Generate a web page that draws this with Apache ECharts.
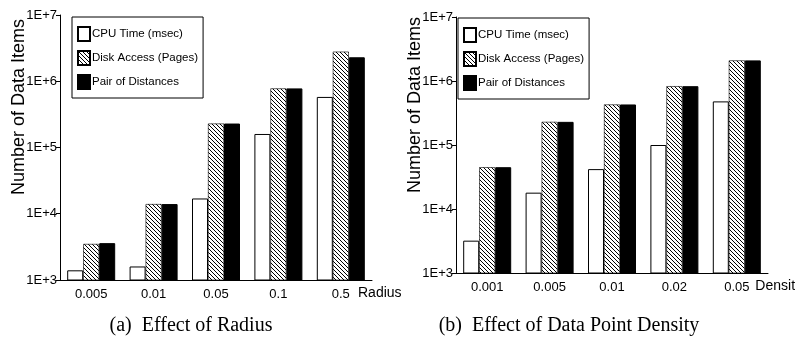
<!DOCTYPE html>
<html>
<head>
<meta charset="utf-8">
<script src="https://cdn.jsdelivr.net/npm/echarts@6/dist/echarts.min.js"></script>
<style>
    html, body { margin: 0; padding: 0; background: #fff; }
    #graph { width: 795px; height: 345px; }
</style>
</head>
<body>
<div id="graph"></div>
<script>
"use strict"

const seriesNames = ["CPU Time (msec)", "Disk Access (Pages)", "Pair of Distances"];

// (a) effect of radius
const radiusCats = ["0.005", "0.01", "0.05", "0.1", "0.5"];
const radiusCpu = [1400, 1600, 17000, 160000, 580000];
const radiusDisk = [3500, 14000, 230000, 780000, 2800000];
const radiusPair = [3600, 14000, 230000, 780000, 2300000];

// (b) effect of data point density
const densityCats = ["0.001", "0.005", "0.01", "0.02", "0.05"];
const densityCpu = [3200, 18000, 42000, 100000, 480000];
const densityDisk = [45000, 230000, 430000, 830000, 2100000];
const densityPair = [45000, 230000, 430000, 830000, 2100000];

const sans = "'Liberation Sans', Arial, sans-serif";
const serif = "'Liberation Serif', 'Times New Roman', serif";

function hatch()
{
    const c = document.createElement("canvas");
    c.width = 4; c.height = 4;
    const ctx = c.getContext("2d");
    ctx.fillStyle = "#fff";
    ctx.fillRect(0, 0, 4, 4);
    ctx.strokeStyle = "#000";
    ctx.lineWidth = 1;
    ctx.beginPath();
    ctx.moveTo(-1, -1); ctx.lineTo(5, 5);
    ctx.moveTo(-1, 3); ctx.lineTo(1, 5);
    ctx.moveTo(3, -1); ctx.lineTo(5, 1);
    ctx.stroke();
    return { image: c, repeat: "repeat" };
}
const hatchFill = hatch();

const styles = [
    { color: "#fff", borderColor: "#000", borderWidth: 1 },
    { color: hatchFill, borderColor: "#000", borderWidth: 0.6 },
    { color: "#000", borderColor: "#000", borderWidth: 1 }
];

const xax = (idx, cats, name) => ({
    type: "category",
    gridIndex: idx,
    data: cats,
    name: name,
    nameLocation: "end",
    nameGap: -14,
    nameTextStyle: { fontFamily: sans, fontSize: 14, color: "#000", verticalAlign: "top", padding: [6, 0, 0, 0] },
    axisLine: { lineStyle: { color: "#000", width: 1 } },
    axisTick: { length: 4, lineStyle: { color: "#000" } },
    axisLabel: { fontFamily: sans, fontSize: 13, color: "#000", margin: 8 }
});

const yax = idx => ({
    type: "log",
    logBase: 10,
    gridIndex: idx,
    min: 1000,
    max: 10000000,
    splitLine: { show: false },
    axisLine: { show: true, lineStyle: { color: "#000", width: 1 } },
    axisTick: { show: true, length: 4, lineStyle: { color: "#000" } },
    axisLabel: {
        fontFamily: sans, fontSize: 13, color: "#000", margin: 3,
        formatter: v => "1E+" + Math.round(Math.log10(v))
    }
});

const legend = (left, top) => ({
    orient: "vertical",
    left: left,
    top: top,
    data: seriesNames.map(n => ({ name: n, icon: "rect" })),
    borderColor: "#000",
    borderWidth: 1,
    borderRadius: 0,
    padding: [9, 5, 8, 5],
    itemGap: 8,
    itemWidth: 12,
    itemHeight: 14,
    selectedMode: false,
    textStyle: { fontFamily: sans, fontSize: 11.5, color: "#000", padding: [0, 0, 0, -3] }
});

const bars = (idx, values) => values.map((vals, i) => ({
    name: seriesNames[i],
    type: "bar",
    xAxisIndex: idx,
    yAxisIndex: idx,
    data: vals,
    barWidth: 16,
    barGap: "0%",
    itemStyle: styles[i],
    emphasis: { disabled: true }
}));

const yName = (x, y) => ({
    type: "text",
    x: x,
    y: y,
    rotation: Math.PI / 2,
    style: { text: "Number of Data Items", fontFamily: sans, fontSize: 18, fill: "#000", align: "center", verticalAlign: "middle" }
});

const caption = (x, text) => ({
    type: "text",
    x: x,
    y: 326,
    style: { text: text, fontFamily: serif, fontSize: 20, fill: "#000", align: "center", verticalAlign: "middle" }
});

const myChart = echarts.init(document.getElementById("graph"), null, { renderer: "canvas" });
myChart.setOption({
    animation: false,
    grid: [
        { left: 60, top: 15, width: 312, height: 265, outerBoundsMode: "none" },
        { left: 456, top: 17, width: 312, height: 256, outerBoundsMode: "none" }
    ],
    xAxis: [xax(0, radiusCats, "Radius"), xax(1, densityCats, "Density")],
    yAxis: [yax(0), yax(1)],
    legend: [legend(72, 17), legend(458, 18)],
    series: bars(0, [radiusCpu, radiusDisk, radiusPair]).concat(bars(1, [densityCpu, densityDisk, densityPair])),
    graphic: [
        yName(19, 107),
        yName(415, 105),
        caption(191, "(a)  Effect of Radius"),
        caption(569, "(b)  Effect of Data Point Density")
    ]
});
</script>
</body>
</html>
